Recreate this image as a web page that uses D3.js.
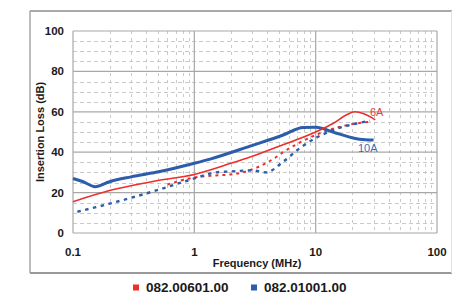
<!DOCTYPE html>
<html>
<head>
<meta charset="utf-8">
<script src="https://cdn.jsdelivr.net/npm/d3@7"></script>
<style>
  body { margin: 0; background: #fff; }
  text { font-family: "Liberation Sans", Arial, sans-serif; }
</style>
</head>
<body>
<svg id="chart" width="452" height="295"></svg>
<script>
// frequencies (MHz) and insertion loss (dB)
var redSolidF = [0.1, 0.2, 0.5, 1, 2, 3, 5, 10, 14, 18, 21, 25, 31];
var redSolidV = [15.5, 21, 26, 29, 34.5, 38, 43, 50, 54.3, 58.5, 60, 59, 56];

var blueSolidF = [0.1, 0.12, 0.152, 0.2, 0.3, 0.52, 1, 1.35, 2.88, 5.4, 7.9, 10, 14.9, 23, 30];
var blueSolidV = [27, 25.5, 22.9, 25.4, 27.8, 30.4, 34.5, 36.6, 43, 48.5, 52.2, 52.3, 49.4, 46.4, 46];

var redDotF = [0.6, 1, 1.5, 2, 2.5, 3.3, 4.7, 5.4, 7, 10, 16, 22, 28];
var redDotV = [24, 27.5, 28.5, 29, 30, 32.5, 37.5, 40, 44, 48.5, 52.6, 54.3, 55];

var blueDotF = [0.1, 0.2, 0.5, 1, 1.5, 2, 3, 3.9, 5.4, 7.4, 10, 14, 22, 28];
var blueDotV = [10, 14.5, 21.3, 27, 30, 30.5, 31, 30, 35.3, 42, 47, 51, 54.3, 55.6];

var xTicks = [0.1, 1, 10, 100];
var xTickLabels = ["0.1", "1", "10", "100"];
var yTicks = [0, 20, 40, 60, 80, 100];
var legendNames = ["082.00601.00", "082.01001.00"];
var lineLabels = ["6A", "10A"];

var red = "#ec2f2c", blue = "#2b5dab";

var svg = d3.select("#chart");
var L = 73, R = 437, T = 31, B = 233;

var x = d3.scaleLog().domain([0.1, 100]).range([L, R]);
var y = d3.scaleLinear().domain([0, 100]).range([B, T]);

// outer frame
svg.append("line").attr("x1", 30).attr("x2", 452).attr("y1", 11).attr("y2", 11).attr("stroke", "#8c8c8c").attr("stroke-width", 1.3);
svg.append("line").attr("x1", 30).attr("x2", 452).attr("y1", 273).attr("y2", 273).attr("stroke", "#777").attr("stroke-width", 1.3);
svg.append("line").attr("x1", 30).attr("x2", 30).attr("y1", 11).attr("y2", 273).attr("stroke", "#999").attr("stroke-width", 1.3);
svg.append("line").attr("x1", 451.5).attr("x2", 451.5).attr("y1", 11).attr("y2", 273).attr("stroke", "#e4e4e4").attr("stroke-width", 1);

// minor grid
var minorX = [];
[0.1, 1, 10].forEach(function(d) { for (var k = 2; k <= 9; k++) minorX.push(d * k); });
var minorY = d3.range(5, 100, 5).filter(function(d) { return d % 20 !== 0; });

var g = svg.append("g");
g.selectAll(".mx").data(minorX).enter().append("line")
  .attr("x1", function(d) { return Math.round(x(d)) + 0.5; })
  .attr("x2", function(d) { return Math.round(x(d)) + 0.5; })
  .attr("y1", T).attr("y2", B)
  .attr("stroke", "#bdbdbd").attr("stroke-width", 0.8).attr("stroke-dasharray", "3,4");
g.selectAll(".my").data(minorY).enter().append("line")
  .attr("x1", L).attr("x2", R)
  .attr("y1", function(d) { return Math.round(y(d)) + 0.5; })
  .attr("y2", function(d) { return Math.round(y(d)) + 0.5; })
  .attr("stroke", "#bdbdbd").attr("stroke-width", 0.8).attr("stroke-dasharray", "4,3");

// major grid
g.selectAll(".Mx").data(xTicks).enter().append("line")
  .attr("x1", function(d) { return x(d); }).attr("x2", function(d) { return x(d); })
  .attr("y1", T).attr("y2", B)
  .attr("stroke", "#a8a8a8").attr("stroke-width", 1.2);
g.selectAll(".My").data(yTicks).enter().append("line")
  .attr("x1", L).attr("x2", R)
  .attr("y1", function(d) { return y(d); }).attr("y2", function(d) { return y(d); })
  .attr("stroke", "#a8a8a8").attr("stroke-width", 1.2);

// tick labels
svg.selectAll(".yl").data(yTicks).enter().append("text")
  .attr("x", 64).attr("y", function(d) { return y(d) + 4; })
  .attr("text-anchor", "end").attr("font-size", 11.5).attr("font-weight", "bold").attr("fill", "#1a1a1a")
  .text(function(d) { return d; });
svg.selectAll(".xl").data(xTicks).enter().append("text")
  .attr("x", function(d) { return x(d); }).attr("y", 256)
  .attr("text-anchor", "middle").attr("font-size", 11.5).attr("font-weight", "bold").attr("fill", "#1a1a1a")
  .text(function(d, i) { return xTickLabels[i]; });

svg.append("text").attr("x", 257).attr("y", 267)
  .attr("text-anchor", "middle").attr("font-size", 11).attr("font-weight", "bold").attr("fill", "#1a1a1a")
  .text("Frequency (MHz)");
svg.append("text").attr("transform", "translate(44,132) rotate(-90)")
  .attr("text-anchor", "middle").attr("font-size", 11).attr("font-weight", "bold").attr("fill", "#1a1a1a")
  .text("Insertion Loss (dB)");

// curves
var line = d3.line()
  .x(function(d) { return x(d[0]); })
  .y(function(d) { return y(d[1]); })
  .curve(d3.curveMonotoneX);
function pts(f, v) { return f.map(function(d, i) { return [d, v[i]]; }); }

svg.append("path").attr("d", line(pts(redDotF, redDotV)))
  .attr("fill", "none").attr("stroke", red).attr("stroke-width", 2).attr("stroke-dasharray", "3,4");
svg.append("path").attr("d", line(pts(blueDotF, blueDotV)))
  .attr("fill", "none").attr("stroke", blue).attr("stroke-width", 2.4).attr("stroke-dasharray", "3.5,4.5").attr("stroke-dashoffset", 3.5);
svg.append("path").attr("d", line(pts(blueSolidF, blueSolidV)))
  .attr("fill", "none").attr("stroke", blue).attr("stroke-width", 3);
svg.append("path").attr("d", line(pts(redSolidF, redSolidV)))
  .attr("fill", "none").attr("stroke", red).attr("stroke-width", 1.6);

// end labels
svg.append("text").attr("x", 370).attr("y", 116).attr("font-size", 11).attr("fill", "#e8413f").text(lineLabels[0]);
svg.append("text").attr("x", 358).attr("y", 152).attr("font-size", 11).attr("fill", "#3d6cb8").text(lineLabels[1]);

// legend
var legX = [133, 251];
var leg = svg.selectAll(".leg").data(legendNames).enter().append("g");
leg.append("rect").attr("x", function(d, i) { return legX[i]; }).attr("y", 284.5)
  .attr("width", 6).attr("height", 6)
  .attr("fill", function(d, i) { return i === 0 ? red : blue; });
leg.append("text").attr("x", function(d, i) { return legX[i] + 13; }).attr("y", 292)
  .attr("font-size", 13.5).attr("font-weight", "bold").attr("fill", "#1a1a1a")
  .text(function(d) { return d; });
</script>
</body>
</html>
